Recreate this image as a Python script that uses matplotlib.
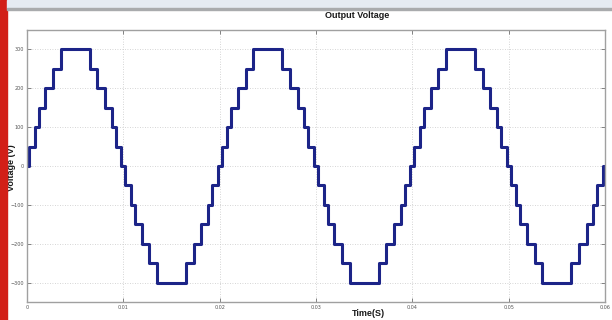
import matplotlib
matplotlib.use("Agg")
import matplotlib.pyplot as plt
import numpy as np

# switching instants inside one half cycle (s) and the level held after each one (V)
half_edges = [0.0002, 0.0008, 0.0012, 0.0019, 0.0027, 0.0035,
              0.0065, 0.0073, 0.0081, 0.0088, 0.0092, 0.0098]
half_levels = [50, 100, 150, 200, 250, 300,
               250, 200, 150, 100, 50, 0]
half_period = 0.01
n_halves = 6

x_ticks = [0, 0.01, 0.02, 0.03, 0.04, 0.05, 0.06]
x_labels = ["0", "0.01", "0.02", "0.03", "0.04", "0.05", "0.06"]
y_ticks = [-300, -200, -100, 0, 100, 200, 300]

# staircase: every half cycle repeats with the opposite sign
t = [0.0]
v = [0]
for k in range(n_halves):
    sign = 1 if k % 2 == 0 else -1
    for e, lv in zip(half_edges, half_levels):
        t.append(k * half_period + e)
        v.append(sign * lv)
t.append(n_halves * half_period + 0.001)
v.append(v[-1])

fig = plt.figure(figsize=(6.12, 3.2), dpi=100)
fig.patch.set_facecolor("white")

# slide decorations around the screenshot
fig.patches.append(plt.Rectangle((0, 0), 7 / 612, 1, transform=fig.transFigure,
                                 color="#d21f17", zorder=5))
fig.patches.append(plt.Rectangle((7 / 612, 1 - 8 / 320), 1, 8 / 320, transform=fig.transFigure,
                                 color="#e5ebf2", zorder=5))
fig.patches.append(plt.Rectangle((7 / 612, 1 - 10 / 320), 1, 2 / 320, transform=fig.transFigure,
                                 color="#a9abad", zorder=5))

ax = fig.add_axes([27 / 612, 1 - 302 / 320, 578 / 612, 272 / 320])
ax.step(t, v, where="post", color="#1c2488", linewidth=2.2)

ax.set_xlim(0, 0.06)
ax.set_ylim(-350, 350)
ax.set_xticks(x_ticks)
ax.set_xticklabels(x_labels)
ax.set_yticks(y_ticks)
ax.tick_params(direction="in", length=3, width=0.6, color="#707070",
               labelsize=3.5, labelcolor="#555555", top=True, right=True, pad=2)
ax.grid(True, linestyle=(0, (1, 2)), color="#c8c8c8", linewidth=0.6)
for s in ax.spines.values():
    s.set_color("#a0a0a0")
    s.set_linewidth(1.0)

font = dict(fontsize=6.5, fontweight="bold", family="Liberation Sans", color="#1a1a1a")
fig.text(357 / 612, 1 - 16 / 320, "Output Voltage", ha="center", va="center", **font)
fig.text(368 / 612, 1 - 314 / 320, "Time(S)", ha="center", va="center", **font)
fig.text(12 / 612, 1 - 168 / 320, "Voltage (V)", ha="center", va="center",
         rotation=90, **font)

fig.savefig("out.png", dpi=100)
